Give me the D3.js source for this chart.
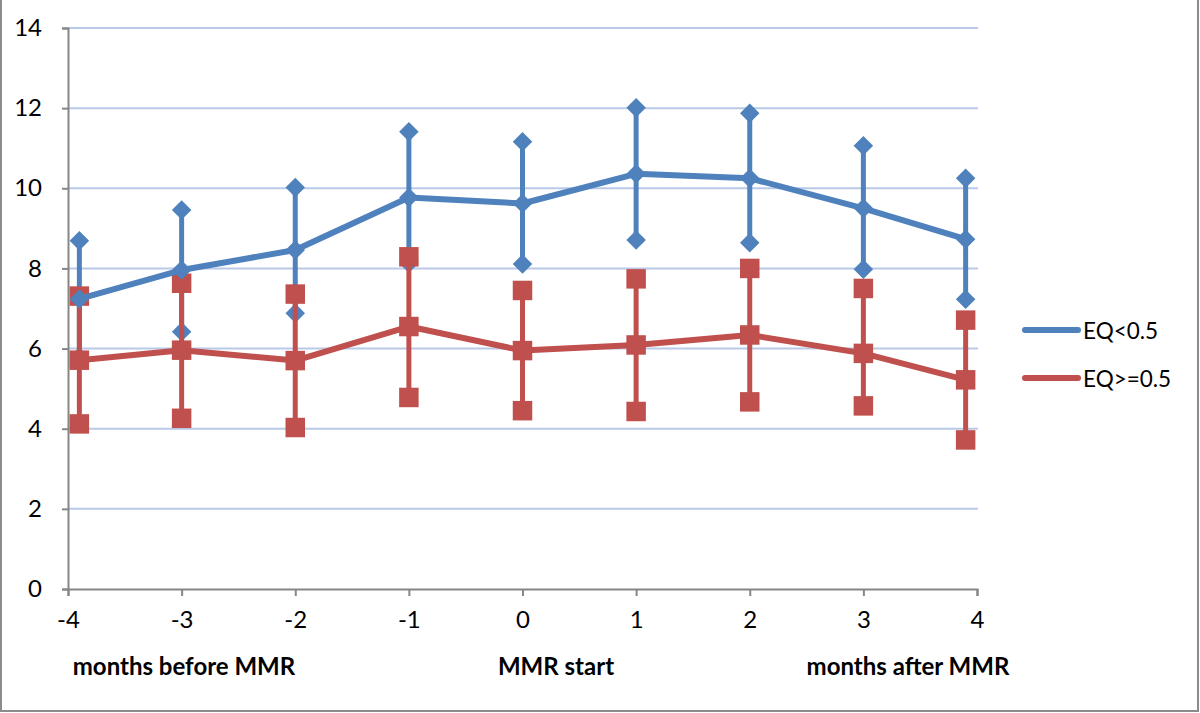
<!DOCTYPE html>
<html>
  <head>
    <meta charset="utf-8">
    <script src="https://cdn.jsdelivr.net/npm/d3@7"></script>
    <style>
      body { margin: 0; background: #fff; }
      text { font-family: Lato, "Open Sans", sans-serif; }
    </style>
  </head>
  <body>
    <svg width="1200" height="713"></svg>
    <script>
      // months relative to MMR start (end points sit slightly inside the axis)
      var months = [-3.9, -3, -2, -1, 0, 1, 2, 3, 3.9];

      var lowMean = [7.24, 7.96, 8.46, 9.77, 9.62, 10.36, 10.25, 9.5, 8.73];
      var lowUpper = [8.69, 9.46, 10.02, 11.41, 11.16, 12.01, 11.87, 11.06, 10.25];
      var lowLower = [5.79, 6.42, 6.88, 8.13, 8.11, 8.71, 8.64, 7.98, 7.23];

      var highMean = [5.71, 5.96, 5.7, 6.55, 5.95, 6.09, 6.34, 5.88, 5.22];
      var highUpper = [7.31, 7.63, 7.36, 8.29, 7.45, 7.74, 8.0, 7.5, 6.71];
      var highLower = [4.12, 4.26, 4.03, 4.78, 4.45, 4.43, 4.67, 4.57, 3.72];

      var xTicks = [-4, -3, -2, -1, 0, 1, 2, 3, 4];
      var yTicks = [0, 2, 4, 6, 8, 10, 12, 14];
      var phaseLabels = ["months before MMR", "MMR start", "months after MMR"];
      var seriesNames = ["EQ<0.5", "EQ>=0.5"];

      var svg = d3.select("svg");

      var x = d3.scaleLinear().domain([-4, 4]).range([68, 977]);
      var y = d3.scaleLinear().domain([0, 14]).range([589, 28]);

      // frame
      svg.append("path")
        .attr("d", "M1,0 V711 H1198 V0")
        .attr("fill", "none")
        .attr("stroke", "#8c8c8c")
        .attr("stroke-width", 2);

      // gridlines
      svg.append("g")
        .selectAll("line")
        .data(yTicks.filter((d) => d > 0))
        .enter()
        .append("line")
        .attr("x1", x(-4))
        .attr("x2", 978)
        .attr("y1", (d) => y(d))
        .attr("y2", (d) => y(d))
        .attr("stroke", "#b9cae9")
        .attr("stroke-width", 2);

      // axes
      var plain = (d) => String(d);
      var yAxis = svg.append("g")
        .attr("transform", "translate(" + x(-4) + ",0)")
        .call(d3.axisLeft(y).tickValues(yTicks).tickFormat(plain).tickSize(6).tickPadding(20));
      var xAxis = svg.append("g")
        .attr("transform", "translate(0," + y(0) + ")")
        .call(d3.axisBottom(x).tickValues(xTicks).tickFormat(plain).tickSize(7).tickPadding(14));

      [yAxis, xAxis].forEach((g) => {
        g.select(".domain").attr("stroke", "#868686").attr("stroke-width", 2);
        g.selectAll(".tick line").attr("stroke", "#868686").attr("stroke-width", 2);
        g.selectAll(".tick text")
          .attr("fill", "#000")
          .style("font-size", "24px")
          .style("font-family", "Lato, 'Open Sans', sans-serif");
      });
      xAxis.selectAll(".tick text").attr("dy", "0.75em");

      // phase labels under the x axis
      svg.selectAll(".phase")
        .data(phaseLabels)
        .enter()
        .append("text")
        .attr("class", "phase")
        .attr("x", (d, i) => [184, 556, 908][i])
        .attr("y", 675)
        .attr("text-anchor", "middle")
        .style("font-size", "24px")
        .style("font-weight", "bold")
        .text((d) => d);

      var series = [
        { name: seriesNames[0], mean: lowMean, upper: lowUpper, lower: lowLower, color: "#4f81bd", shape: "diamond" },
        { name: seriesNames[1], mean: highMean, upper: highUpper, lower: highLower, color: "#c0504d", shape: "square" }
      ];

      var diamond = d3.symbol().type(d3.symbolSquare).size(190);
      var square = d3.symbol().type(d3.symbolSquare).size(380);

      function marker(g, s, cx, cy) {
        g.append("path")
          .attr("d", s.shape === "diamond" ? diamond() : square())
          .attr("fill", s.color)
          .attr("transform", "translate(" + cx + "," + cy + ")" + (s.shape === "diamond" ? " rotate(45)" : ""));
      }

      // error bars with end markers
      series.forEach((s) => {
        var g = svg.append("g");
        months.forEach((m, i) => {
          g.append("line")
            .attr("x1", x(m))
            .attr("x2", x(m))
            .attr("y1", y(s.lower[i]))
            .attr("y2", y(s.upper[i]))
            .attr("stroke", s.color)
            .attr("stroke-width", 5);
          marker(g, s, x(m), y(s.upper[i]));
          marker(g, s, x(m), y(s.lower[i]));
        });
      });

      // mean lines
      var line = d3.line()
        .x((d, i) => x(months[i]))
        .y((d) => y(d));

      series.forEach((s) => {
        var g = svg.append("g");
        g.append("path")
          .attr("d", line(s.mean))
          .attr("fill", "none")
          .attr("stroke", s.color)
          .attr("stroke-width", 6)
          .attr("stroke-linejoin", "round");
        s.mean.forEach((v, i) => marker(g, s, x(months[i]), y(v)));
      });

      // legend
      var legend = svg.selectAll(".legend")
        .data(series)
        .enter()
        .append("g")
        .attr("class", "legend")
        .attr("transform", (d, i) => "translate(1025," + (330 + i * 48) + ")");
      legend.append("line")
        .attr("x1", 0)
        .attr("x2", 53)
        .attr("stroke", (d) => d.color)
        .attr("stroke-width", 6)
        .attr("stroke-linecap", "round");
      legend.append("text")
        .attr("x", 58)
        .attr("y", 9)
        .style("font-size", "22.5px")
        .text((d) => d.name);
    </script>
  </body>
</html>
